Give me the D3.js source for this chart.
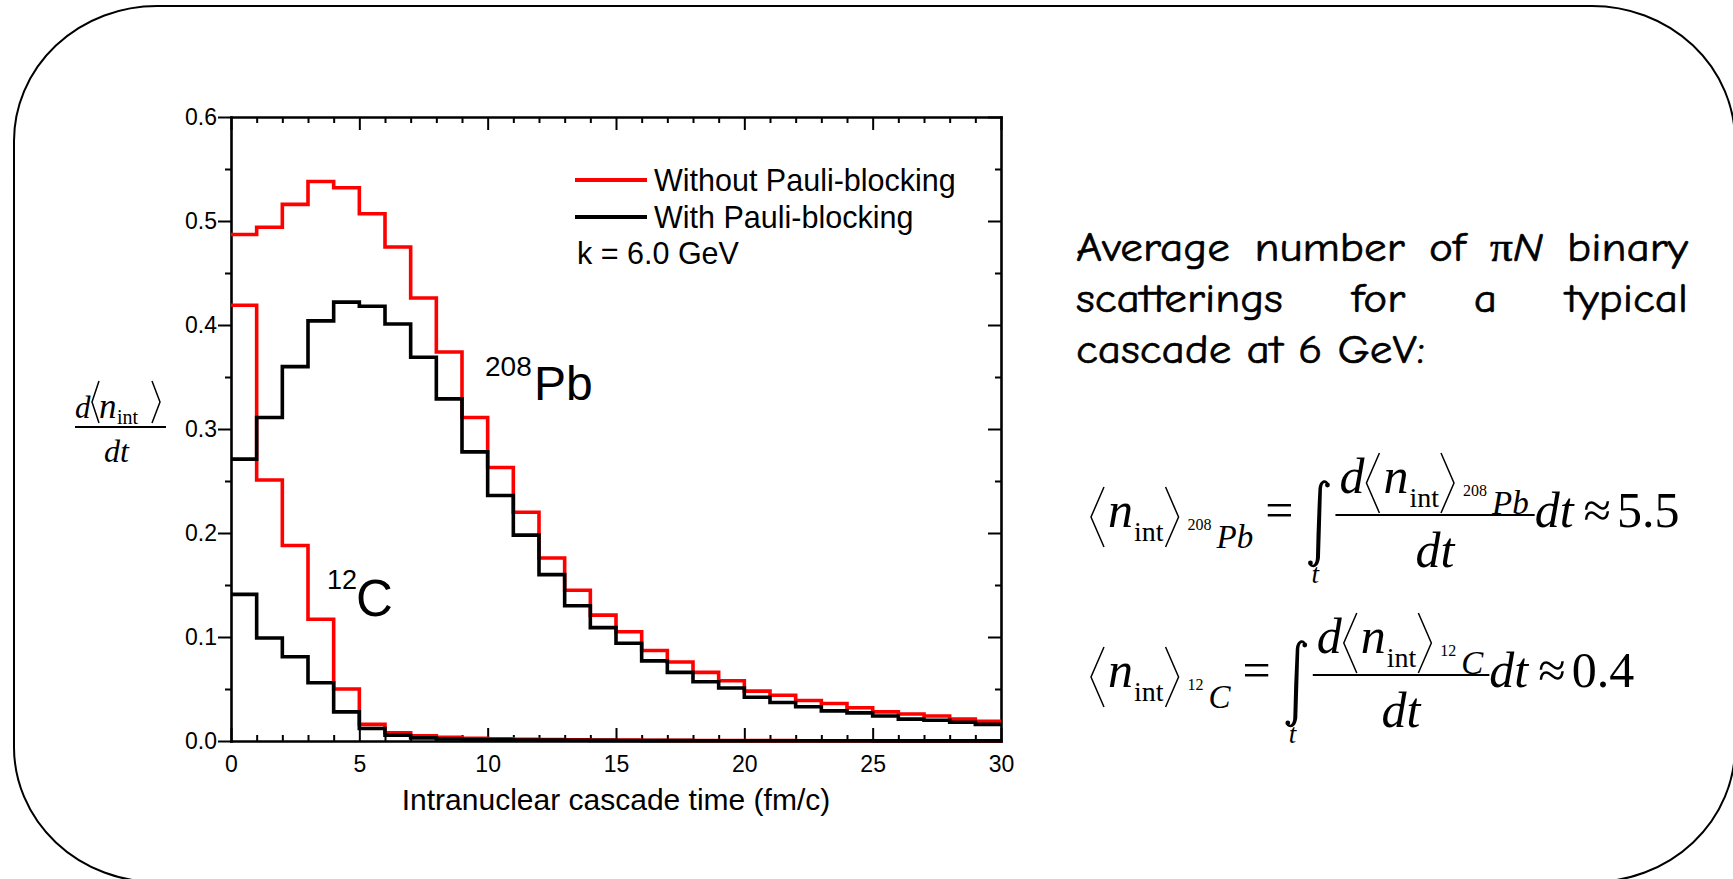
<!DOCTYPE html>
<html>
<head>
<meta charset="utf-8">
<script src="https://cdn.jsdelivr.net/npm/d3@7"></script>
<style>
  body { margin: 0; background: #fff; }
  svg text { fill: #000; }
</style>
</head>
<body>
<svg id="chart" width="1733" height="879"></svg>
<script>
// histogram values, one per 1 fm/c bin from 0 to 30
const pbWithout = [0.487, 0.494, 0.516, 0.538, 0.532, 0.507, 0.475, 0.426, 0.374, 0.311,
  0.263, 0.220, 0.176, 0.145, 0.121, 0.105, 0.087, 0.076, 0.066, 0.058,
  0.048, 0.044, 0.039, 0.036, 0.032, 0.028, 0.026, 0.024, 0.021, 0.019];
const pbWith = [0.271, 0.311, 0.360, 0.404, 0.422, 0.418, 0.401, 0.369, 0.329, 0.278,
  0.236, 0.198, 0.160, 0.130, 0.109, 0.094, 0.077, 0.066, 0.057, 0.051,
  0.042, 0.037, 0.033, 0.029, 0.027, 0.024, 0.021, 0.020, 0.018, 0.016];
const cWithout = [0.419, 0.251, 0.188, 0.117, 0.050, 0.016, 0.008, 0.005, 0.0035, 0.0025,
  0.002, 0.0016, 0.0013, 0.0011, 0.0009, 0.0008, 0.0007, 0.0006, 0.0005, 0.0005,
  0.0004, 0.0004, 0.0003, 0.0003, 0.0003, 0.0002, 0.0002, 0.0002, 0.0002, 0.0001];
const cWith = [0.141, 0.099, 0.081, 0.056, 0.028, 0.012, 0.0055, 0.003, 0.002, 0.0015,
  0.0012, 0.001, 0.0008, 0.0007, 0.0006, 0.0005, 0.0004, 0.0004, 0.0003, 0.0003,
  0.0003, 0.0002, 0.0002, 0.0002, 0.0002, 0.0001, 0.0001, 0.0001, 0.0001, 0.0001];

const xTicks = [0, 5, 10, 15, 20, 25, 30];
const xMinor = d3.range(1, 30).filter(d => d % 5 !== 0);
const yTicks = [0, 0.1, 0.2, 0.3, 0.4, 0.5, 0.6];
const yMinor = [0.05, 0.15, 0.25, 0.35, 0.45, 0.55];

const legendLabels = ['Without Pauli-blocking', 'With Pauli-blocking'];
const legendColors = ['#ff0000', '#000000'];
const energyNote = 'k = 6.0 GeV';
const xTitle = 'Intranuclear cascade time (fm/c)';
const noteLines = ['Average number of πN binary', 'scatterings for a typical', 'cascade at 6 GeV:'];
const integrals = [
  { sup: '208', nuc: 'Pb', result: '5.5' },
  { sup: '12', nuc: 'C', result: '0.4' },
];

const svg = d3.select('#chart');
const SANS = '"Liberation Sans", Arial, sans-serif';
const SERIF = '"Liberation Serif", "Times New Roman", serif';

// rounded slide frame
svg.append('rect')
  .attr('x', 14).attr('y', 6)
  .attr('width', 1721).attr('height', 876)
  .attr('rx', 143).attr('ry', 135)
  .attr('fill', 'none').attr('stroke', '#000').attr('stroke-width', 2);

const plot = { left: 231, right: 1001, top: 117, bottom: 741 };

const x = d3.scaleLinear().domain([0, 30]).range([plot.left, plot.right]);
const y = d3.scaleLinear().domain([0, 0.6]).range([plot.bottom, plot.top]);

function styleAxis(g) {
  g.attr('font-size', 23).attr('font-family', SANS);
  g.select('.domain').attr('stroke-width', 2.6).attr('stroke-linecap', 'square');
  g.selectAll('.tick line').attr('stroke-width', 2);
  g.selectAll('.tick text').attr('fill', '#000');
}

function noDomain(g) { g.select('.domain').remove(); }

svg.append('g').attr('transform', `translate(${plot.left},0)`)
  .call(d3.axisLeft(y).tickValues(yTicks).tickSize(13).tickSizeOuter(0).tickPadding(1).tickFormat(d3.format('.1f')))
  .call(styleAxis);
svg.append('g').attr('transform', `translate(${plot.left},0)`)
  .call(d3.axisLeft(y).tickValues(yMinor).tickSize(6).tickFormat(''))
  .call(styleAxis).call(noDomain);

svg.append('g').attr('transform', `translate(${plot.right},0)`)
  .call(d3.axisRight(y).tickValues(yTicks).tickSize(-13).tickSizeOuter(0).tickFormat(''))
  .call(styleAxis);
svg.append('g').attr('transform', `translate(${plot.right},0)`)
  .call(d3.axisRight(y).tickValues(yMinor).tickSize(-6).tickFormat(''))
  .call(styleAxis).call(noDomain);

svg.append('g').attr('transform', `translate(0,${plot.bottom})`)
  .call(d3.axisBottom(x).tickValues(xTicks).tickSize(-13).tickSizeOuter(0).tickPadding(15))
  .call(styleAxis);
svg.append('g').attr('transform', `translate(0,${plot.bottom})`)
  .call(d3.axisBottom(x).tickValues(xMinor).tickSize(-6).tickFormat(''))
  .call(styleAxis).call(noDomain);

svg.append('g').attr('transform', `translate(0,${plot.top})`)
  .call(d3.axisTop(x).tickValues(xTicks).tickSize(-13).tickSizeOuter(0).tickFormat(''))
  .call(styleAxis);
svg.append('g').attr('transform', `translate(0,${plot.top})`)
  .call(d3.axisTop(x).tickValues(xMinor).tickSize(-6).tickFormat(''))
  .call(styleAxis).call(noDomain);

// step histograms
const step = d3.line()
  .x(d => x(d[0]))
  .y(d => y(d[1]))
  .curve(d3.curveStepAfter);

function binPoints(values) {
  const pts = values.map((v, i) => [i, v]);
  pts.push([values.length, values[values.length - 1]]);
  return pts;
}

const series = [
  { values: cWithout, color: legendColors[0] },
  { values: pbWithout, color: legendColors[0] },
  { values: cWith, color: legendColors[1] },
  { values: pbWith, color: legendColors[1] },
];

svg.append('g')
  .selectAll('path')
  .data(series)
  .enter().append('path')
  .attr('d', d => step(binPoints(d.values)))
  .attr('fill', 'none')
  .attr('stroke', d => d.color)
  .attr('stroke-width', 3.6)
  .attr('stroke-linejoin', 'miter');

// legend
const legend = svg.append('g').attr('font-family', SANS).attr('font-size', 30.5);
legendLabels.forEach((label, i) => {
  const ly = 180 + i * 37;
  legend.append('line')
    .attr('x1', 575).attr('x2', 647).attr('y1', ly).attr('y2', ly)
    .attr('stroke', legendColors[i]).attr('stroke-width', 4);
  legend.append('text').attr('x', 654).attr('y', ly + 11).text(label);
});
legend.append('text').attr('x', 577).attr('y', 264).text(energyNote);

// nucleus labels
const tags = svg.append('g').attr('font-family', SANS);
tags.append('text').attr('x', 485).attr('y', 376).attr('font-size', 28).text('208');
tags.append('text').attr('x', 534).attr('y', 400).attr('font-size', 48).text('Pb');
tags.append('text').attr('x', 327).attr('y', 589).attr('font-size', 27).text('12');
tags.append('text').attr('x', 356).attr('y', 616).attr('font-size', 51).text('C');

// axis title
svg.append('text')
  .attr('x', (plot.left + plot.right) / 2).attr('y', 810)
  .attr('text-anchor', 'middle')
  .attr('font-family', SANS).attr('font-size', 30)
  .text(xTitle);

// math helpers
function put(g, txt, px, py, size, italic) {
  return g.append('text')
    .attr('x', px).attr('y', py)
    .attr('font-family', SERIF)
    .attr('font-size', size)
    .attr('font-style', italic ? 'italic' : 'normal')
    .text(txt);
}
function width(t) { return t.node().getComputedTextLength(); }
function bracket(g, xTip, xOpen, y0, y1) {
  g.append('path')
    .attr('d', `M${xOpen},${y0}L${xTip},${(y0 + y1) / 2}L${xOpen},${y1}`)
    .attr('fill', 'none').attr('stroke', '#000').attr('stroke-width', 1.5);
}
function bar(g, x0, x1, yy) {
  g.append('line').attr('x1', x0).attr('x2', x1).attr('y1', yy).attr('y2', yy)
    .attr('stroke', '#000').attr('stroke-width', 1.8);
}
// integral sign as a filled shape: thin ends, thicker middle
function integralSign(g, x0, y0, y1) {
  const m = (y0 + y1) / 2;
  const p = d3.path();
  p.moveTo(x0 + 21, y0 + 4);
  p.bezierCurveTo(x0 + 20, y0 - 1.5, x0 + 12, y0 - 1.5, x0 + 11, y0 + 9);
  p.quadraticCurveTo(x0 + 9.2, m, x0 + 8.5, y1 - 9);
  p.bezierCurveTo(x0 + 8, y1 - 1, x0 + 4, y1 - 1, x0 + 2, y1 - 4);
  p.lineTo(x0 + 2, y1 - 1.5);
  p.bezierCurveTo(x0 + 5, y1 + 1.5, x0 + 11, y1 + 1.5, x0 + 12.5, y1 - 9);
  p.quadraticCurveTo(x0 + 13.6, m, x0 + 14.5, y0 + 9);
  p.bezierCurveTo(x0 + 15, y0 + 1.5, x0 + 18, y0 + 1.5, x0 + 21, y0 + 6);
  p.closePath();
  g.append('path').attr('d', p.toString()).attr('fill', '#000');
  g.append('circle').attr('cx', x0 + 20).attr('cy', y0 + 5).attr('r', 2.4);
  g.append('circle').attr('cx', x0 + 3).attr('cy', y1 - 4).attr('r', 2.4);
}

// y-axis label: d<n_int>/dt
const yl = svg.append('g');
put(yl, 'd', 75, 418, 31, true);
bracket(yl, 92, 99, 381, 423);
put(yl, 'n', 99, 418, 35, true);
put(yl, 'int', 117, 424, 20, false);
bracket(yl, 160, 152, 381, 423);
bar(yl, 75, 166, 427);
put(yl, 'dt', 104, 462, 32, true);

// <n_int>_{sup nuc}, laid out left to right from the bracket tip
function nint(g, x0, base, sup, nuc) {
  bracket(g, x0, x0 + 13, base - 40, base + 20);
  const n = put(g, 'n', x0 + 17, base, 50, true);
  const i = put(g, 'int', x0 + 18 + width(n), base + 14, 28, false);
  const ie = x0 + 18 + width(n) + width(i);
  bracket(g, ie + 15, ie + 2, base - 40, base + 20);
  const s = put(g, sup, ie + 24, base + 3, 16, false);
  const k = put(g, nuc, ie + 29 + width(s), base + 21, 33, true);
  return ie + 29 + width(s) + width(k);
}

const eq = svg.append('g');
integrals.forEach((d, i) => {
  const dy = i * 160;
  const base = 527 + dy;
  const e1 = nint(eq, 1091, base, d.sup, d.nuc);
  const eqs = put(eq, '=', e1 + 12, base, 50, false);
  const xi = e1 + 12 + width(eqs) + 14;
  integralSign(eq, xi, base - 47, base + 40);
  put(eq, 't', xi + 4, base + 56, 27, true);
  const xd = xi + 32;
  const dd = put(eq, 'd', xd, base - 34, 50, true);
  const e2 = nint(eq, xd + width(dd) + 2, base - 34, d.sup, d.nuc);
  const barEnd = e2 + 6;
  bar(eq, xd - 4, barEnd, base - 12);
  put(eq, 'dt', (xd - 4 + barEnd) / 2, base + 40, 50, true).attr('text-anchor', 'middle');
  const dt = put(eq, 'dt', barEnd, base, 50, true);
  const ap = put(eq, '≈', barEnd + width(dt) + 10, base, 50, false);
  put(eq, d.result, barEnd + width(dt) + 16 + width(ap), base, 50, false);
});

// justified note text
const note = svg.append('g')
  .attr('font-family', '"Comic Sans MS", "Comic Neue", "Noto Sans", sans-serif')
  .attr('font-size', 40)
  .attr('stroke', '#000').attr('stroke-width', 0.6);
const noteLeft = 1076, noteRight = 1688, lastLineWidth = 349;
const probe = note.append('text').text(noteLines[2]);
const sx = lastLineWidth / width(probe);
probe.remove();

noteLines.forEach((line, li) => {
  const baseline = 261 + li * 51;
  const row = note.append('g').attr('transform', `scale(${sx},1)`);
  const L = noteLeft / sx;
  if (li === noteLines.length - 1) {
    row.append('text').attr('x', L).attr('y', baseline).text(line);
    return;
  }
  const words = line.split(' ');
  const nodes = words.map(w => {
    const t = row.append('text').attr('y', baseline);
    if (w === 'πN') {
      t.append('tspan').attr('font-family', SERIF).text('π');
      t.append('tspan').attr('font-style', 'italic').text('N');
    } else {
      t.text(w);
    }
    return t;
  });
  const widths = nodes.map(width);
  const R = noteRight / sx;
  const gap = (R - L - d3.sum(widths)) / (words.length - 1);
  let cx = L;
  nodes.forEach((t, i) => { t.attr('x', cx); cx += widths[i] + gap; });
});
</script>
</body>
</html>
